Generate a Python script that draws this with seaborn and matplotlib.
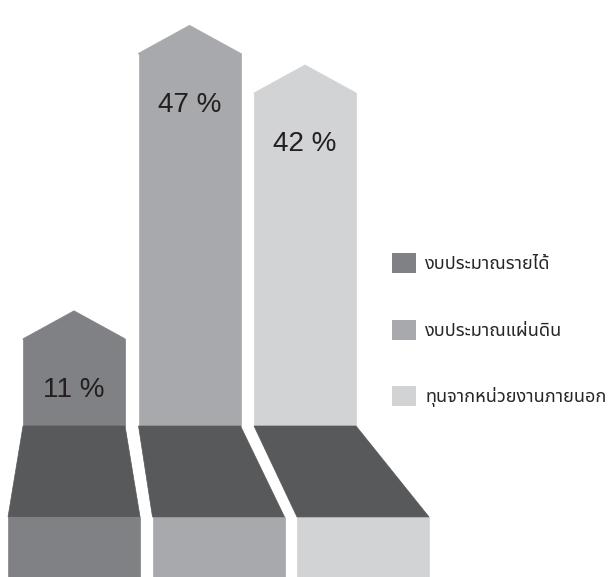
import matplotlib
matplotlib.use("Agg")
import matplotlib.pyplot as plt
import seaborn as sns
from matplotlib.patches import Polygon, Patch

# data
sources = ["งบประมาณรายได้", "งบประมาณแผ่นดิน", "ทุนจากหน่วยงานภายนอก"]
shares = [11, 47, 42]
labels = ["11 %", "47 %", "42 %"]
colors = ["#808184", "#a7a9ac", "#d1d3d4"]
dark = "#58595b"

sns.set_style("white")
plt.rcParams["font.family"] = ["Noto Sans Thai", "DejaVu Sans"]

fig = plt.figure(figsize=(6.08, 5.77), dpi=100)
ax = fig.add_axes([0, 0, 1, 1])
sns.barplot(x=sources, y=shares, hue=sources, palette=colors, width=0.883,
            legend=False, saturation=1, linewidth=0, ax=ax)

tip = 3.53      # height of arrow head
band = 11.47    # dark base band
shift = 0.251   # base drift per bar
flare = 0.13    # base widening per side
ymin = -19.04

for i, p in enumerate(ax.patches):
    x0, w, h = p.get_x(), p.get_width(), p.get_height()
    c = p.get_facecolor()
    p.set_edgecolor(c)
    p.set_linewidth(0.5)
    ax.add_patch(Polygon([(x0, h - 0.1), (x0, h), (x0 + w / 2, h + tip), (x0 + w, h), (x0 + w, h - 0.1)],
                         closed=True, fc=c, ec=c, lw=0.5))
    bl = x0 - flare + i * shift
    br = x0 + w + flare + i * shift
    ax.add_patch(Polygon([(bl, -band), (br, -band), (br, ymin - 1), (bl, ymin - 1)],
                         closed=True, fc=c, ec=c, lw=0.5))
    ax.add_patch(Polygon([(x0, 0), (x0 + w, 0), (br, -band), (bl, -band)],
                         closed=True, fc=dark, ec=dark, lw=0.5))
    ax.text(x0 + w / 2, h - 6.5, labels[i], ha="center", va="center",
            fontsize=20, color="#231f20", family=["Liberation Sans", "DejaVu Sans"])

ax.set_xlim(-0.641, 4.623)
ax.set_ylim(ymin, 53.72)
ax.axis("off")

handles = [Patch(fc=c, ec="none") for c in colors]
fig.legend(handles, sources, loc="upper left",
           bbox_to_anchor=(392 / 608, 1 - 253 / 577), bbox_transform=fig.transFigure,
           frameon=False, fontsize=13, handlelength=1.33, handleheight=1.33,
           handletextpad=0.5, labelspacing=2.58, borderpad=0, borderaxespad=0)

fig.savefig("out.png", dpi=100)
